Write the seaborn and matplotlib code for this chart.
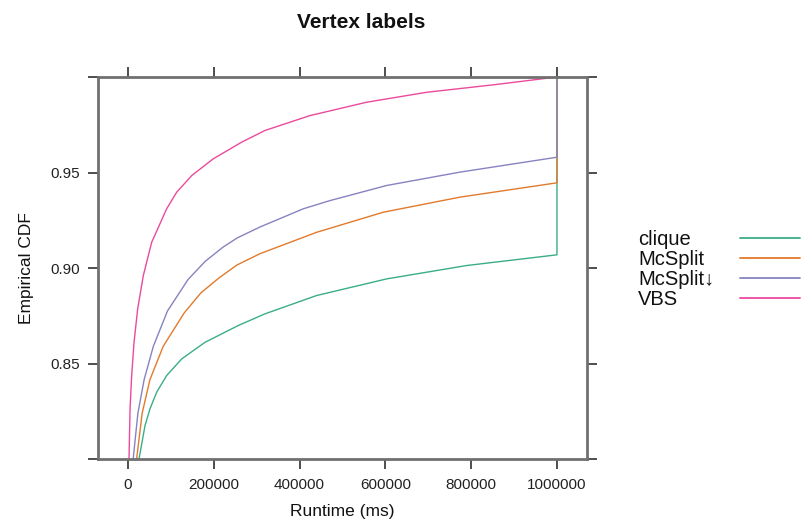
import seaborn as sns
import pandas as pd
from matplotlib import pyplot as plt
from matplotlib.lines import Line2D

# values (runtime in ms, empirical CDF)
solvers = ["clique", "McSplit", "McSplit\u2193", "VBS"]
colors = ["#3aad88", "#e27a2c", "#8783c0", "#eb4a9c"]

clique_x = [25600, 39600, 51300, 66800, 90100, 125100, 179500, 257100, 319300,
            439800, 603000, 789500, 1000000, 1000000]
clique_y = [0.800, 0.8175, 0.8263, 0.8350, 0.8437, 0.8524, 0.8611, 0.8699, 0.8760,
            0.8856, 0.8943, 0.9013, 0.9069, 1.0]

mcsplit_x = [20000, 33000, 51000, 82000, 131000, 170000, 212000, 253400, 307700,
             439800, 595000, 773900, 1000000, 1000000]
mcsplit_y = [0.800, 0.8240, 0.8415, 0.8590, 0.8765, 0.8870, 0.8948, 0.9015, 0.9075,
             0.9187, 0.9292, 0.9371, 0.9446, 1.0]

mcsplit_down_x = [12000, 23000, 37500, 59000, 92000, 140000, 180000, 222000, 255000,
                  308000, 408600, 470900, 603000, 773900, 1000000, 1000000]
mcsplit_down_y = [0.800, 0.8240, 0.8415, 0.8590, 0.8775, 0.8940, 0.9035, 0.9110, 0.9158,
                  0.9215, 0.9310, 0.9353, 0.9432, 0.9502, 0.9580, 1.0]

vbs_x = [2300, 4700, 8500, 14000, 22500, 35700, 55200, 90100, 113500, 148500,
         198900, 265000, 319300, 424200, 556400, 696200, 851600, 1000000]
vbs_y = [0.800, 0.8263, 0.8437, 0.8611, 0.8786, 0.8961, 0.9135, 0.9310, 0.9397, 0.9484,
         0.9572, 0.9659, 0.9720, 0.9798, 0.9868, 0.9920, 0.9959, 1.0]

x_ticks = [0, 200000, 400000, 600000, 800000, 1000000]
y_ticks = [0.80, 0.85, 0.90, 0.95, 1.00]
y_tick_labels = ["", "0.85", "0.90", "0.95", ""]

frames = []
for name, xs, ys in zip(solvers,
                        [clique_x, mcsplit_x, mcsplit_down_x, vbs_x],
                        [clique_y, mcsplit_y, mcsplit_down_y, vbs_y]):
    frames.append(pd.DataFrame({"runtime": xs, "cdf": ys, "solver": name}))
df = pd.concat(frames, ignore_index=True)

sns.set_theme(style="white")
plt.rcParams["font.family"] = ["Liberation Sans", "DejaVu Sans"]

fig = plt.figure(figsize=(8.02, 5.29), dpi=100)
ax = fig.add_axes([98 / 802, 1 - 459 / 529, (587 - 98) / 802, (459 - 77) / 529])

palette = dict(zip(solvers, colors))
sns.lineplot(data=df, x="runtime", y="cdf", hue="solver", palette=palette,
             estimator=None, sort=False, legend=False, lw=1.0, ax=ax)

ax.set_xlim(-70000, 1070000)
ax.set_ylim(0.80, 1.0)
ax.set_xticks(x_ticks)
ax.set_xticklabels([str(v) for v in x_ticks])
ax.set_yticks(y_ticks)
ax.set_yticklabels(y_tick_labels)

frame_col = "#707070"
for sp in ax.spines.values():
    sp.set_color(frame_col)
    sp.set_linewidth(2)
ax.tick_params(axis="both", which="both", direction="out", length=7, width=1.3,
               color="#404040", labelsize=11, labelcolor="#222222",
               top=True, right=True, bottom=True, left=True,
               labeltop=False, labelright=False)
ax.tick_params(axis="x", pad=7)
ax.tick_params(axis="y", pad=6)

ax.set_xlabel("Runtime (ms)", fontsize=12.5, color="#111111", labelpad=8)
ax.set_ylabel("Empirical CDF", fontsize=12.5, color="#111111", labelpad=12)
fig.text(361 / 802, 1 - 28 / 529, "Vertex labels", ha="center", va="baseline",
         fontsize=15, fontweight="bold", color="#111111")

# lattice-style key: labels left, line samples on the right
for i, (name, col) in enumerate(zip(solvers, colors)):
    base = 245 + 20 * i
    mid = 238 + 20 * i
    fig.text(638 / 802, 1 - base / 529, name, ha="left", va="baseline",
             fontsize=14.5, color="#111111")
    fig.add_artist(Line2D([740 / 802, 800 / 802], [1 - mid / 529, 1 - mid / 529],
                          color=col, lw=1.3, transform=fig.transFigure))

fig.savefig("out.png", dpi=100)
